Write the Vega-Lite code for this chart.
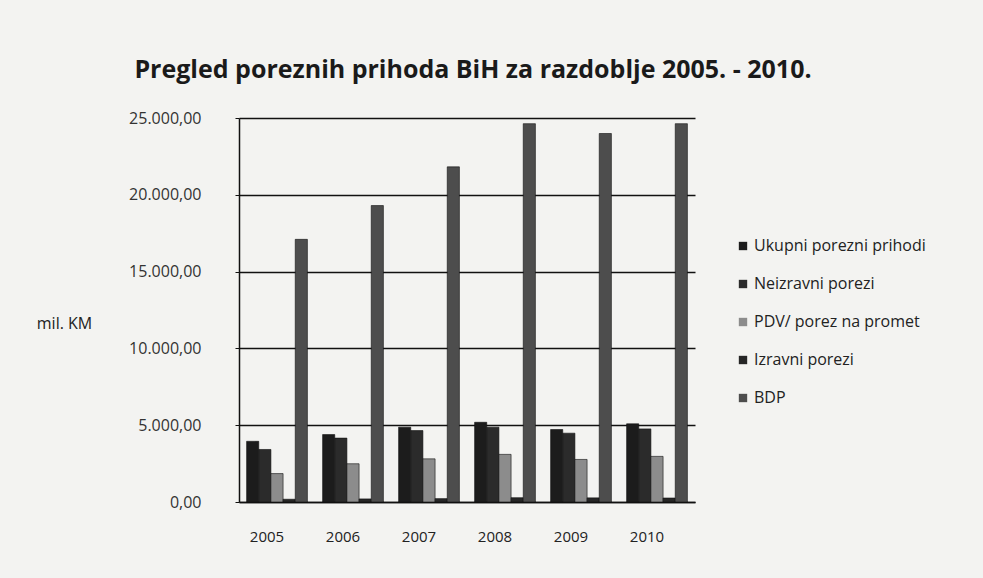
{
  "$schema": "https://vega.github.io/schema/vega-lite/v6.json",
  "width": 456,
  "height": 384,
  "autosize": {"type": "none"},
  "padding": {"left": 239, "top": 118, "right": 288, "bottom": 76},
  "background": "#f3f3f1",
  "title": {
    "text": "Pregled poreznih prihoda BiH za razdoblje 2005. - 2010.",
    "font": "Open Sans",
    "fontSize": 25,
    "fontWeight": "bold",
    "color": "#1a1a1a",
    "anchor": "middle",
    "offset": 27,
    "dx": 6
  },
  "data": {
    "values": [
      {"year": "2005", "series": "Ukupni porezni prihodi", "value": 3950},
      {"year": "2005", "series": "Neizravni porezi", "value": 3420},
      {"year": "2005", "series": "PDV/ porez na promet", "value": 1850},
      {"year": "2005", "series": "Izravni  porezi", "value": 180},
      {"year": "2005", "series": "BDP", "value": 17100},
      {"year": "2006", "series": "Ukupni porezni prihodi", "value": 4390},
      {"year": "2006", "series": "Neizravni porezi", "value": 4160},
      {"year": "2006", "series": "PDV/ porez na promet", "value": 2490},
      {"year": "2006", "series": "Izravni  porezi", "value": 200},
      {"year": "2006", "series": "BDP", "value": 19300},
      {"year": "2007", "series": "Ukupni porezni prihodi", "value": 4870},
      {"year": "2007", "series": "Neizravni porezi", "value": 4650},
      {"year": "2007", "series": "PDV/ porez na promet", "value": 2810},
      {"year": "2007", "series": "Izravni  porezi", "value": 220},
      {"year": "2007", "series": "BDP", "value": 21820},
      {"year": "2008", "series": "Ukupni porezni prihodi", "value": 5190},
      {"year": "2008", "series": "Neizravni porezi", "value": 4870},
      {"year": "2008", "series": "PDV/ porez na promet", "value": 3100},
      {"year": "2008", "series": "Izravni  porezi", "value": 280},
      {"year": "2008", "series": "BDP", "value": 24630},
      {"year": "2009", "series": "Ukupni porezni prihodi", "value": 4720},
      {"year": "2009", "series": "Neizravni porezi", "value": 4480},
      {"year": "2009", "series": "PDV/ porez na promet", "value": 2770},
      {"year": "2009", "series": "Izravni  porezi", "value": 270},
      {"year": "2009", "series": "BDP", "value": 23990},
      {"year": "2010", "series": "Ukupni porezni prihodi", "value": 5090},
      {"year": "2010", "series": "Neizravni porezi", "value": 4760},
      {"year": "2010", "series": "PDV/ porez na promet", "value": 2970},
      {"year": "2010", "series": "Izravni  porezi", "value": 260},
      {"year": "2010", "series": "BDP", "value": 24630}
    ]
  },
  "mark": {"type": "bar", "stroke": "#111", "strokeWidth": 0.6},
  "encoding": {
    "x": {
      "field": "year",
      "type": "nominal",
      "scale": {"paddingInner": 0.2, "paddingOuter": 0.1},
      "axis": {
        "title": null,
        "labelAngle": 0,
        "labelFont": "Open Sans",
        "labelFontSize": 15,
        "labelColor": "#222",
        "labelPadding": 27,
        "labelOffset": -10,
        "ticks": false,
        "domainColor": "#111",
        "domainWidth": 1.5
      }
    },
    "xOffset": {
      "field": "series",
      "type": "nominal",
      "sort": ["Ukupni porezni prihodi", "Neizravni porezi", "PDV/ porez na promet", "Izravni  porezi", "BDP"],
      "scale": {"paddingInner": -0.15}
    },
    "y": {
      "field": "value",
      "type": "quantitative",
      "scale": {"domain": [0, 25000], "nice": false},
      "axis": {
        "values": [0, 5000, 10000, 15000, 20000, 25000],
        "title": "mil. KM",
        "titleAngle": 0,
        "titleAlign": "center",
        "titleBaseline": "middle",
        "titleX": -175,
        "titleY": 205,
        "titleFont": "Open Sans",
        "titleFontSize": 16,
        "titleFontWeight": "normal",
        "titleColor": "#222",
        "labelExpr": "replace(replace(replace(format(datum.value, ',.2f'), ',', '#'), '.', ','), '#', '.')",
        "labelFont": "Open Sans",
        "labelFontSize": 16,
        "labelColor": "#333",
        "labelPadding": 34,
        "tickSize": 4,
        "tickColor": "#111",
        "domainColor": "#111",
        "domainWidth": 1.5,
        "grid": true,
        "gridColor": "#111",
        "gridWidth": 1.5
      }
    },
    "color": {
      "field": "series",
      "type": "nominal",
      "sort": ["Ukupni porezni prihodi", "Neizravni porezi", "PDV/ porez na promet", "Izravni  porezi", "BDP"],
      "scale": {
        "domain": ["Ukupni porezni prihodi", "Neizravni porezi", "PDV/ porez na promet", "Izravni  porezi", "BDP"],
        "range": ["#1c1c1c", "#2b2b2b", "#8c8c8c", "#262626", "#4d4d4d"]
      },
      "legend": {
        "title": null,
        "orient": "none",
        "legendX": 496,
        "legendY": 120,
        "symbolType": "square",
        "symbolSize": 70,
        "symbolStrokeWidth": 0,
        "labelFont": "Open Sans",
        "labelFontSize": 16,
        "labelLimit": 400,
        "labelColor": "#222",
        "labelOffset": 3,
        "rowPadding": 22
      }
    }
  },
  "config": {"view": {"stroke": null}}
}
